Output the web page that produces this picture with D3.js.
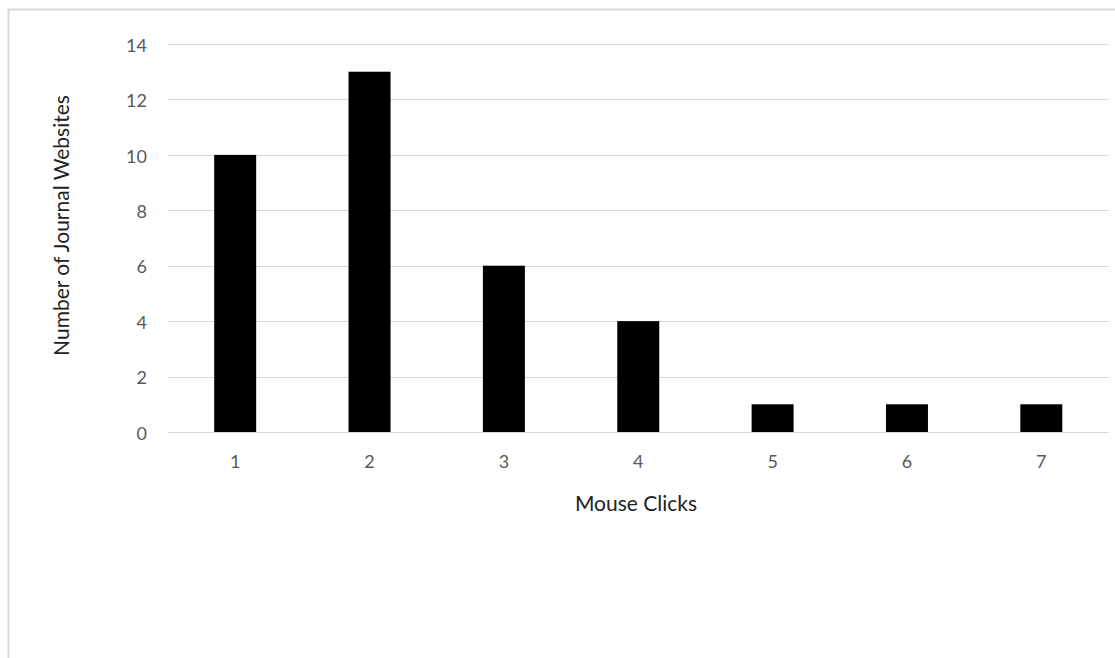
<!DOCTYPE html>
<html><head><meta charset="utf-8">
<script src="https://cdn.jsdelivr.net/npm/d3@7"></script>
<style>body{margin:0;background:#fff}svg{display:block}</style>
</head><body>
<svg id="c" width="1115" height="658"></svg>
<script>
const categories = ["1","2","3","4","5","6","7"];
const values = [10, 13, 6, 4, 1, 1, 1];
const yTicks = [0, 2, 4, 6, 8, 10, 12, 14];
const xTitle = "Mouse Clicks";
const yTitle = "Number of Journal Websites";

const svg = d3.select("#c");
const font = "Lato, 'Open Sans', sans-serif";
// border (top & left)
svg.append("path").attr("d","M8.5,658 V9.5 H1115").attr("fill","none").attr("stroke","#d9d9d9").attr("stroke-width",2);

const x = d3.scaleBand().domain(categories).range([168, 1108.5]).paddingInner(0.6875).paddingOuter(0.34375);
const y = d3.scaleLinear().domain([0, 14]).range([432, 44]);

const g = svg.append("g");
g.selectAll("line.grid").data(yTicks).join("line").attr("class","grid")
  .attr("x1",168).attr("x2",1108.5).attr("y1",d=>Math.round(y(d))+0.5).attr("y2",d=>Math.round(y(d))+0.5)
  .attr("stroke","#d9d9d9").attr("stroke-width",1);

g.selectAll("rect").data(values).join("rect")
  .attr("x",(d,i)=>x(categories[i])).attr("width",x.bandwidth())
  .attr("y",d=>y(d)).attr("height",d=>y(0)-y(d)).attr("fill","#000");

const yAxis = d3.axisLeft(y).tickValues(yTicks).tickSize(0).tickPadding(0);
const ya = svg.append("g").attr("transform","translate(147,0)").call(yAxis);
ya.select(".domain").remove();
ya.selectAll("text").attr("font-family",font).attr("font-size",18).attr("fill","#595959").attr("dy","0.4em");

const xAxis = d3.axisBottom(x).tickSize(0).tickPadding(0);
const xa = svg.append("g").attr("transform","translate(0,468)").call(xAxis);
xa.select(".domain").remove();
xa.selectAll("text").attr("font-family",font).attr("font-size",18).attr("fill","#595959").attr("dy","0");

svg.append("text").attr("x",636).attr("y",511).attr("text-anchor","middle")
  .attr("font-family",font).attr("font-size",21).attr("fill","#222").text(xTitle);
svg.append("text").attr("transform","translate(69,225.5) rotate(-90)").attr("text-anchor","middle")
  .attr("font-family",font).attr("font-size",21).attr("fill","#222").text(yTitle);
</script>
</body></html>
